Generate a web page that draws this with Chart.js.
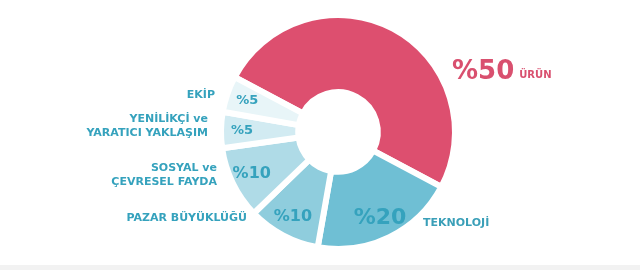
<!DOCTYPE html>
<html>
<head>
<meta charset="utf-8">
<script src="https://cdn.jsdelivr.net/npm/chart.js@4/dist/chart.umd.min.js"></script>
<style>
  html, body { margin:0; padding:0; background:#fff; }
  #wrap { position:relative; width:640px; height:270px; overflow:hidden; }
  #band { position:absolute; left:0; right:0; top:265px; height:5px; background:#f2f2f2; }
</style>
</head>
<body>
<div id="wrap">
  <canvas id="chartPay" width="640" height="270"></canvas>
  <div id="band"></div>
</div>
<script>
// ===== DATA =====
const kategoriler = ["ÜRÜN", "TEKNOLOJİ", "PAZAR BÜYÜKLÜĞÜ", "SOSYAL ve ÇEVRESEL FAYDA", "YENİLİKÇİ ve YARATICI YAKLAŞIM", "EKİP"];
const yuzdeler = [50, 20, 10, 10, 5, 5];
const etiketSatirlari = [
  ["ÜRÜN"],
  ["TEKNOLOJİ"],
  ["PAZAR BÜYÜKLÜĞÜ"],
  ["SOSYAL ve", "ÇEVRESEL FAYDA"],
  ["YENİLİKÇİ ve", "YARATICI YAKLAŞIM"],
  ["EKİP"]
];
const renkler = ["#dd4f6f", "#6fbfd4", "#8fcddd", "#afdbe7", "#d2ebf2", "#e8f5f8"];

// ===== LAYOUT (offsets from chart centre) =====
const FONT = "'DejaVu Sans', sans-serif";
const TEAL = "#35a2bd";
const PINK = "#d9506f";
const dis = [
  null, // ÜRÜN drawn separately with the big number
  {dx:85, dy:91, align:"left", size:11},
  {dx:-91, dy:86, align:"right", size:11},
  {dx:-121, dy:36, align:"right", size:11},
  {dx:-130, dy:-13, align:"right", size:11},
  {dx:-123, dy:-37, align:"right", size:11}
];
const icBoyut = [0, 22, 16, 16, 13, 13];

const etiketPlugin = {
  id: "etiketler",
  afterDraw(chart){
    const ctx = chart.ctx;
    const arcs = chart.getDatasetMeta(0).data;
    if(!arcs.length) return;
    const cx = arcs[0].x, cy = arcs[0].y;

    ctx.save();
    ctx.textBaseline = "middle";

    arcs.forEach((a, i) => {
      // value inside the slice
      if(i > 0){
        const mid = (a.startAngle + a.endAngle) / 2;
        const r = a.outerRadius * 0.82;
        ctx.font = "bold " + icBoyut[i] + "px " + FONT;
        ctx.fillStyle = TEAL;
        ctx.textAlign = "center";
        ctx.fillText("%" + yuzdeler[i], a.x + Math.cos(mid) * r, a.y + Math.sin(mid) * r);
      }

      // category name outside
      const d = dis[i];
      if(!d) return;
      ctx.font = "bold " + d.size + "px " + FONT;
      ctx.fillStyle = i === 1 ? "#3a9fb8" : TEAL;
      ctx.textAlign = d.align;
      etiketSatirlari[i].forEach((s, k) => {
        ctx.fillText(s, cx + d.dx, cy + d.dy + k * 14);
      });
    });

    // big %50 ÜRÜN
    ctx.textAlign = "left";
    ctx.fillStyle = PINK;
    ctx.font = "bold 26px " + FONT;
    const buyuk = "%" + yuzdeler[0];
    ctx.fillText(buyuk, cx + 114, cy - 60);
    const w = ctx.measureText(buyuk).width;
    ctx.font = "bold 10px " + FONT;
    ctx.fillText(etiketSatirlari[0][0], cx + 114 + w + 5, cy - 57);

    ctx.restore();
  }
};

new Chart(document.getElementById("chartPay"), {
  type: "doughnut",
  data: {
    labels: kategoriler,
    datasets: [{
      data: yuzdeler,
      backgroundColor: renkler,
      borderColor: "#ffffff",
      borderWidth: 6
    }]
  },
  options: {
    responsive: false,
    animation: false,
    rotation: -62,
    radius: 117,
    cutout: "34%",
    layout: { padding: { left: 36, top: 0, bottom: 6, right: 0 } },
    plugins: {
      legend: { display: false },
      tooltip: { enabled: false }
    }
  },
  plugins: [etiketPlugin]
});
</script>
</body>
</html>
